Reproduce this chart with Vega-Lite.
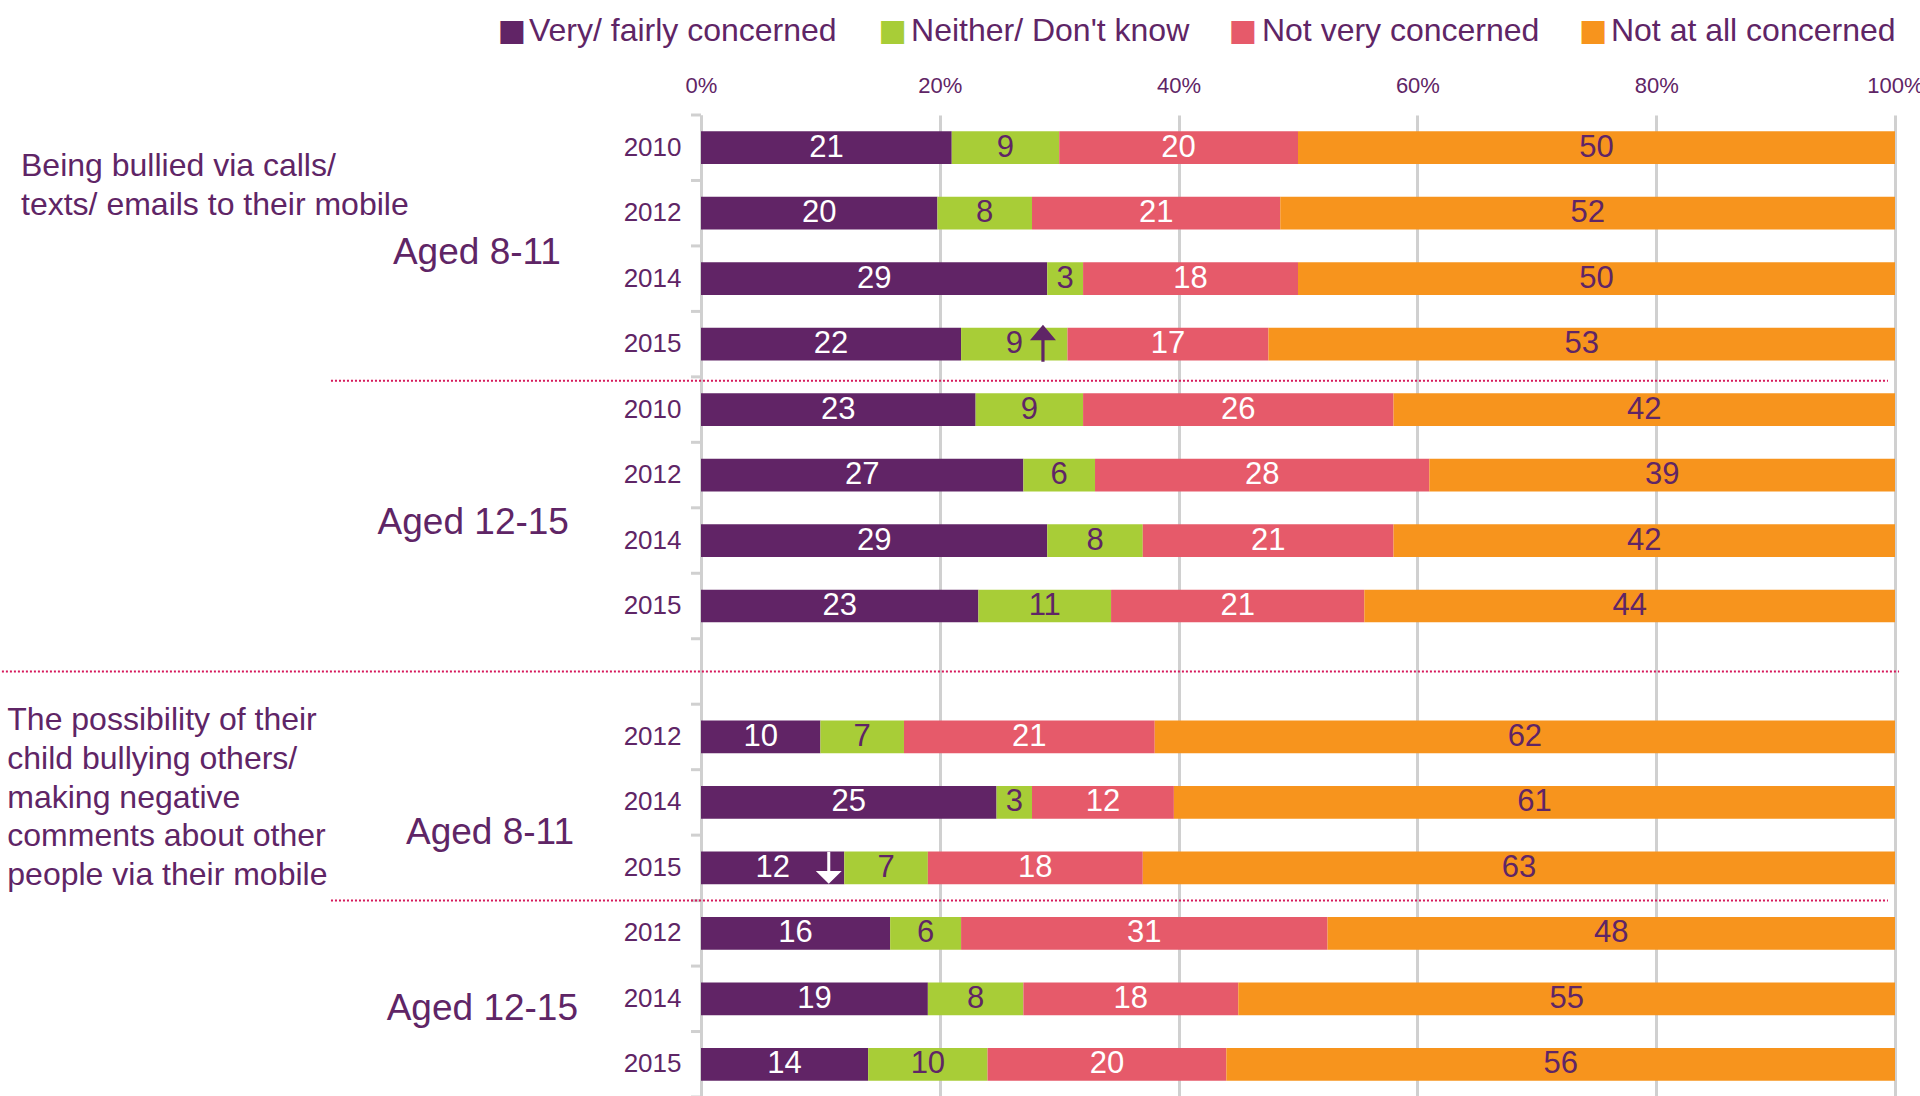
{
  "$schema": "https://vega.github.io/schema/vega-lite/v6.json",
  "width": 1194,
  "height": 982,
  "padding": {"left": 0, "top": 14, "right": 0, "bottom": 0},
  "config": {"view": {"stroke": null}},
  "datasets": {
    "bars": [
      {"key": "A8-2010", "cat": "c1", "ord": 1, "v": 21}, {"key": "A8-2010", "cat": "c2", "ord": 2, "v": 9}, {"key": "A8-2010", "cat": "c3", "ord": 3, "v": 20}, {"key": "A8-2010", "cat": "c4", "ord": 4, "v": 50},
      {"key": "A8-2012", "cat": "c1", "ord": 1, "v": 20}, {"key": "A8-2012", "cat": "c2", "ord": 2, "v": 8}, {"key": "A8-2012", "cat": "c3", "ord": 3, "v": 21}, {"key": "A8-2012", "cat": "c4", "ord": 4, "v": 52},
      {"key": "A8-2014", "cat": "c1", "ord": 1, "v": 29}, {"key": "A8-2014", "cat": "c2", "ord": 2, "v": 3}, {"key": "A8-2014", "cat": "c3", "ord": 3, "v": 18}, {"key": "A8-2014", "cat": "c4", "ord": 4, "v": 50},
      {"key": "A8-2015", "cat": "c1", "ord": 1, "v": 22}, {"key": "A8-2015", "cat": "c2", "ord": 2, "v": 9}, {"key": "A8-2015", "cat": "c3", "ord": 3, "v": 17}, {"key": "A8-2015", "cat": "c4", "ord": 4, "v": 53},
      {"key": "A12-2010", "cat": "c1", "ord": 1, "v": 23}, {"key": "A12-2010", "cat": "c2", "ord": 2, "v": 9}, {"key": "A12-2010", "cat": "c3", "ord": 3, "v": 26}, {"key": "A12-2010", "cat": "c4", "ord": 4, "v": 42},
      {"key": "A12-2012", "cat": "c1", "ord": 1, "v": 27}, {"key": "A12-2012", "cat": "c2", "ord": 2, "v": 6}, {"key": "A12-2012", "cat": "c3", "ord": 3, "v": 28}, {"key": "A12-2012", "cat": "c4", "ord": 4, "v": 39},
      {"key": "A12-2014", "cat": "c1", "ord": 1, "v": 29}, {"key": "A12-2014", "cat": "c2", "ord": 2, "v": 8}, {"key": "A12-2014", "cat": "c3", "ord": 3, "v": 21}, {"key": "A12-2014", "cat": "c4", "ord": 4, "v": 42},
      {"key": "A12-2015", "cat": "c1", "ord": 1, "v": 23}, {"key": "A12-2015", "cat": "c2", "ord": 2, "v": 11}, {"key": "A12-2015", "cat": "c3", "ord": 3, "v": 21}, {"key": "A12-2015", "cat": "c4", "ord": 4, "v": 44},
      {"key": "B8-2012", "cat": "c1", "ord": 1, "v": 10}, {"key": "B8-2012", "cat": "c2", "ord": 2, "v": 7}, {"key": "B8-2012", "cat": "c3", "ord": 3, "v": 21}, {"key": "B8-2012", "cat": "c4", "ord": 4, "v": 62},
      {"key": "B8-2014", "cat": "c1", "ord": 1, "v": 25}, {"key": "B8-2014", "cat": "c2", "ord": 2, "v": 3}, {"key": "B8-2014", "cat": "c3", "ord": 3, "v": 12}, {"key": "B8-2014", "cat": "c4", "ord": 4, "v": 61},
      {"key": "B8-2015", "cat": "c1", "ord": 1, "v": 12}, {"key": "B8-2015", "cat": "c2", "ord": 2, "v": 7}, {"key": "B8-2015", "cat": "c3", "ord": 3, "v": 18}, {"key": "B8-2015", "cat": "c4", "ord": 4, "v": 63},
      {"key": "B12-2012", "cat": "c1", "ord": 1, "v": 16}, {"key": "B12-2012", "cat": "c2", "ord": 2, "v": 6}, {"key": "B12-2012", "cat": "c3", "ord": 3, "v": 31}, {"key": "B12-2012", "cat": "c4", "ord": 4, "v": 48},
      {"key": "B12-2014", "cat": "c1", "ord": 1, "v": 19}, {"key": "B12-2014", "cat": "c2", "ord": 2, "v": 8}, {"key": "B12-2014", "cat": "c3", "ord": 3, "v": 18}, {"key": "B12-2014", "cat": "c4", "ord": 4, "v": 55},
      {"key": "B12-2015", "cat": "c1", "ord": 1, "v": 14}, {"key": "B12-2015", "cat": "c2", "ord": 2, "v": 10}, {"key": "B12-2015", "cat": "c3", "ord": 3, "v": 20}, {"key": "B12-2015", "cat": "c4", "ord": 4, "v": 56}
    ],
    "bands": [
      {"key": "A8-2010"}, {"key": "A8-2012"}, {"key": "A8-2014"}, {"key": "A8-2015"},
      {"key": "A12-2010"}, {"key": "A12-2012"}, {"key": "A12-2014"}, {"key": "A12-2015"},
      {"key": "gap"},
      {"key": "B8-2012"}, {"key": "B8-2014"}, {"key": "B8-2015"},
      {"key": "B12-2012"}, {"key": "B12-2014"}, {"key": "B12-2015"}
    ]
  },
  "layer": [
    {
      "data": {"name": "bars"},
      "mark": {"type": "bar", "height": {"band": 0.5}},
      "encoding": {
        "y": {
          "field": "key",
          "type": "nominal",
          "scale": {
            "domain": ["A8-2010", "A8-2012", "A8-2014", "A8-2015", "A12-2010", "A12-2012", "A12-2014", "A12-2015", "gap", "B8-2012", "B8-2014", "B8-2015", "B12-2012", "B12-2014", "B12-2015"],
            "paddingInner": 0,
            "paddingOuter": 0
          },
          "axis": {
            "title": null,
            "labelExpr": "datum.value == 'gap' ? '' : slice(datum.value, -4)",
            "labelFont": "Liberation Sans",
            "labelFontSize": 26,
            "labelColor": "#5f2566",
            "labelPadding": 20,
            "domainColor": "#d0d0d0",
            "domainWidth": 3,
            "ticks": false,
            "grid": false
          }
        },
        "x": {
          "field": "v",
          "type": "quantitative",
          "stack": "normalize",
          "scale": {"domain": [0, 1], "nice": false},
          "axis": {
            "title": null,
            "orient": "top",
            "format": ".0%",
            "values": [0, 0.2, 0.4, 0.6, 0.8, 1],
            "labelFont": "Liberation Sans",
            "labelFontSize": 22,
            "labelColor": "#5f2566",
            "labelPadding": 18,
            "labelFlush": false,
            "labelOverlap": false,
            "domain": false,
            "ticks": false,
            "grid": true,
            "gridColor": "#d0d0d0",
            "gridWidth": 3
          }
        },
        "color": {
          "field": "cat",
          "type": "nominal",
          "scale": {
            "domain": ["c1", "c2", "c3", "c4"],
            "range": ["#612466", "#a8cd37", "#e65a6a", "#f7941d"]
          },
          "legend": null
        },
        "order": {"field": "ord", "type": "quantitative"}
      }
    },
    {
      "data": {"name": "bars"},
      "mark": {"type": "text", "font": "Liberation Sans", "fontSize": 31, "baseline": "middle", "align": "center"},
      "encoding": {
        "y": {"field": "key", "type": "nominal"},
        "x": {"field": "v", "type": "quantitative", "stack": "normalize", "bandPosition": 0.5},
        "detail": {"field": "cat", "type": "nominal"},
        "order": {"field": "ord", "type": "quantitative"},
        "text": {"field": "v", "type": "quantitative"},
        "color": {
          "condition": {"test": "datum.ord == 1 || datum.ord == 3", "value": "white"},
          "value": "#5f2566"
        }
      }
    },
    {
      "data": {"name": "bands"},
      "mark": {"type": "rule", "color": "#d0d0d0", "strokeWidth": 3},
      "encoding": {
        "y": {"field": "key", "type": "nominal", "bandPosition": 0},
        "x": {"datum": -0.0084},
        "x2": {"datum": 0}
      }
    },
    {
      "data": {"values": [{"key": "B12-2015"}]},
      "mark": {"type": "rule", "color": "#d0d0d0", "strokeWidth": 3},
      "encoding": {
        "y": {"field": "key", "type": "nominal", "bandPosition": 1},
        "x": {"datum": -0.0084},
        "x2": {"datum": 0}
      }
    },
    {
      "data": {"values": [{"key": "A12-2010"}]},
      "mark": {"type": "rule", "color": "#d6185b", "strokeWidth": 2, "strokeDash": [2, 2]},
      "encoding": {
        "y": {"field": "key", "type": "nominal", "bandPosition": 0.06},
        "x": {"datum": -0.3099},
        "x2": {"datum": 0.9941}
      }
    },
    {
      "data": {"values": [{"key": "B12-2012"}]},
      "mark": {"type": "rule", "color": "#d6185b", "strokeWidth": 2, "strokeDash": [2, 2]},
      "encoding": {
        "y": {"field": "key", "type": "nominal", "bandPosition": 0.0},
        "x": {"datum": -0.3099},
        "x2": {"datum": 0.9941}
      }
    },
    {
      "data": {"values": [{"key": "gap"}]},
      "mark": {"type": "rule", "color": "#d6185b", "strokeWidth": 2, "strokeDash": [2, 2]},
      "encoding": {
        "y": {"field": "key", "type": "nominal", "bandPosition": 0.5},
        "x": {"datum": -0.5855},
        "x2": {"datum": 1.0034}
      }
    },
    {
      "data": {"values": [{"key": "A8-2015"}]},
      "mark": {"type": "point", "filled": true, "opacity": 1, "color": "#5f2566", "size": 1521,
               "shape": "M0,-1L0.667,-0.2L0.082,-0.2L0.082,0.9L-0.082,0.9L-0.082,-0.2L-0.667,-0.2Z"},
      "encoding": {
        "y": {"field": "key", "type": "nominal"},
        "x": {"datum": 0.2864}
      }
    },
    {
      "data": {"values": [{"key": "B8-2015"}]},
      "mark": {"type": "point", "filled": true, "opacity": 1, "color": "white", "size": 1024,
               "shape": "M0,1L-0.81,0.19L-0.094,0.19L-0.094,-1L0.094,-1L0.094,0.19L0.81,0.19Z"},
      "encoding": {
        "y": {"field": "key", "type": "nominal"},
        "x": {"datum": 0.107}
      }
    },
    {
      "data": {"values": [{"key": "A8-2012", "t": ["Being bullied via calls/", "texts/ emails to their mobile"]}]},
      "mark": {"type": "text", "font": "Liberation Sans", "align": "left", "baseline": "middle", "fontSize": 32, "lineHeight": 38.5, "color": "#5f2566", "dy": -47},
      "encoding": {"y": {"field": "key", "type": "nominal"}, "x": {"datum": -0.5695}, "text": {"field": "t"}}
    },
    {
      "data": {"values": [{"key": "B8-2014", "t": ["The possibility of their", "child bullying others/", "making negative", "comments about other", "people via their mobile"]}]},
      "mark": {"type": "text", "font": "Liberation Sans", "align": "left", "baseline": "middle", "fontSize": 32, "lineHeight": 38.6, "color": "#5f2566", "dy": -82},
      "encoding": {"y": {"field": "key", "type": "nominal"}, "x": {"datum": -0.581}, "text": {"field": "t"}}
    },
    {
      "data": {"values": [{"key": "A8-2012", "t": "Aged 8-11"}]},
      "mark": {"type": "text", "font": "Liberation Sans", "align": "right", "baseline": "middle", "fontSize": 37, "color": "#5f2566", "dy": 40},
      "encoding": {"y": {"field": "key", "type": "nominal"}, "x": {"datum": -0.1173}, "text": {"field": "t"}}
    },
    {
      "data": {"values": [{"key": "A12-2012", "t": "Aged 12-15"}]},
      "mark": {"type": "text", "font": "Liberation Sans", "align": "right", "baseline": "middle", "fontSize": 37, "color": "#5f2566", "dy": 48},
      "encoding": {"y": {"field": "key", "type": "nominal"}, "x": {"datum": -0.1106}, "text": {"field": "t"}}
    },
    {
      "data": {"values": [{"key": "B8-2014", "t": "Aged 8-11"}]},
      "mark": {"type": "text", "font": "Liberation Sans", "align": "right", "baseline": "middle", "fontSize": 37, "color": "#5f2566", "dy": 31},
      "encoding": {"y": {"field": "key", "type": "nominal"}, "x": {"datum": -0.1064}, "text": {"field": "t"}}
    },
    {
      "data": {"values": [{"key": "B12-2014", "t": "Aged 12-15"}]},
      "mark": {"type": "text", "font": "Liberation Sans", "align": "right", "baseline": "middle", "fontSize": 37, "color": "#5f2566", "dy": 10},
      "encoding": {"y": {"field": "key", "type": "nominal"}, "x": {"datum": -0.103}, "text": {"field": "t"}}
    },
    {
      "data": {"values": [{"key": "A8-2010", "t": "■"}]},
      "mark": {"type": "text", "font": "DejaVu Sans", "align": "center", "baseline": "middle", "fontSize": 30, "color": "#612466", "dy": -117},
      "encoding": {"y": {"field": "key", "type": "nominal"}, "x": {"datum": -0.1586}, "text": {"field": "t"}}
    },
    {
      "data": {"values": [{"key": "A8-2010", "t": "■"}]},
      "mark": {"type": "text", "font": "DejaVu Sans", "align": "center", "baseline": "middle", "fontSize": 30, "color": "#a8cd37", "dy": -117},
      "encoding": {"y": {"field": "key", "type": "nominal"}, "x": {"datum": 0.1603}, "text": {"field": "t"}}
    },
    {
      "data": {"values": [{"key": "A8-2010", "t": "■"}]},
      "mark": {"type": "text", "font": "DejaVu Sans", "align": "center", "baseline": "middle", "fontSize": 30, "color": "#e65a6a", "dy": -117},
      "encoding": {"y": {"field": "key", "type": "nominal"}, "x": {"datum": 0.4536}, "text": {"field": "t"}}
    },
    {
      "data": {"values": [{"key": "A8-2010", "t": "■"}]},
      "mark": {"type": "text", "font": "DejaVu Sans", "align": "center", "baseline": "middle", "fontSize": 30, "color": "#f7941d", "dy": -117},
      "encoding": {"y": {"field": "key", "type": "nominal"}, "x": {"datum": 0.747}, "text": {"field": "t"}}
    },
    {
      "data": {"values": [{"key": "A8-2010", "t": "Very/ fairly concerned"}]},
      "mark": {"type": "text", "font": "Liberation Sans", "align": "left", "baseline": "middle", "fontSize": 32, "color": "#5f2566", "dy": -117},
      "encoding": {"y": {"field": "key", "type": "nominal"}, "x": {"datum": -0.1441}, "text": {"field": "t"}}
    },
    {
      "data": {"values": [{"key": "A8-2010", "t": "Neither/ Don't know"}]},
      "mark": {"type": "text", "font": "Liberation Sans", "align": "left", "baseline": "middle", "fontSize": 32, "color": "#5f2566", "dy": -117},
      "encoding": {"y": {"field": "key", "type": "nominal"}, "x": {"datum": 0.1759}, "text": {"field": "t"}}
    },
    {
      "data": {"values": [{"key": "A8-2010", "t": "Not very concerned"}]},
      "mark": {"type": "text", "font": "Liberation Sans", "align": "left", "baseline": "middle", "fontSize": 32, "color": "#5f2566", "dy": -117},
      "encoding": {"y": {"field": "key", "type": "nominal"}, "x": {"datum": 0.4698}, "text": {"field": "t"}}
    },
    {
      "data": {"values": [{"key": "A8-2010", "t": "Not at all concerned"}]},
      "mark": {"type": "text", "font": "Liberation Sans", "align": "left", "baseline": "middle", "fontSize": 32, "color": "#5f2566", "dy": -117},
      "encoding": {"y": {"field": "key", "type": "nominal"}, "x": {"datum": 0.7621}, "text": {"field": "t"}}
    }
  ]
}
